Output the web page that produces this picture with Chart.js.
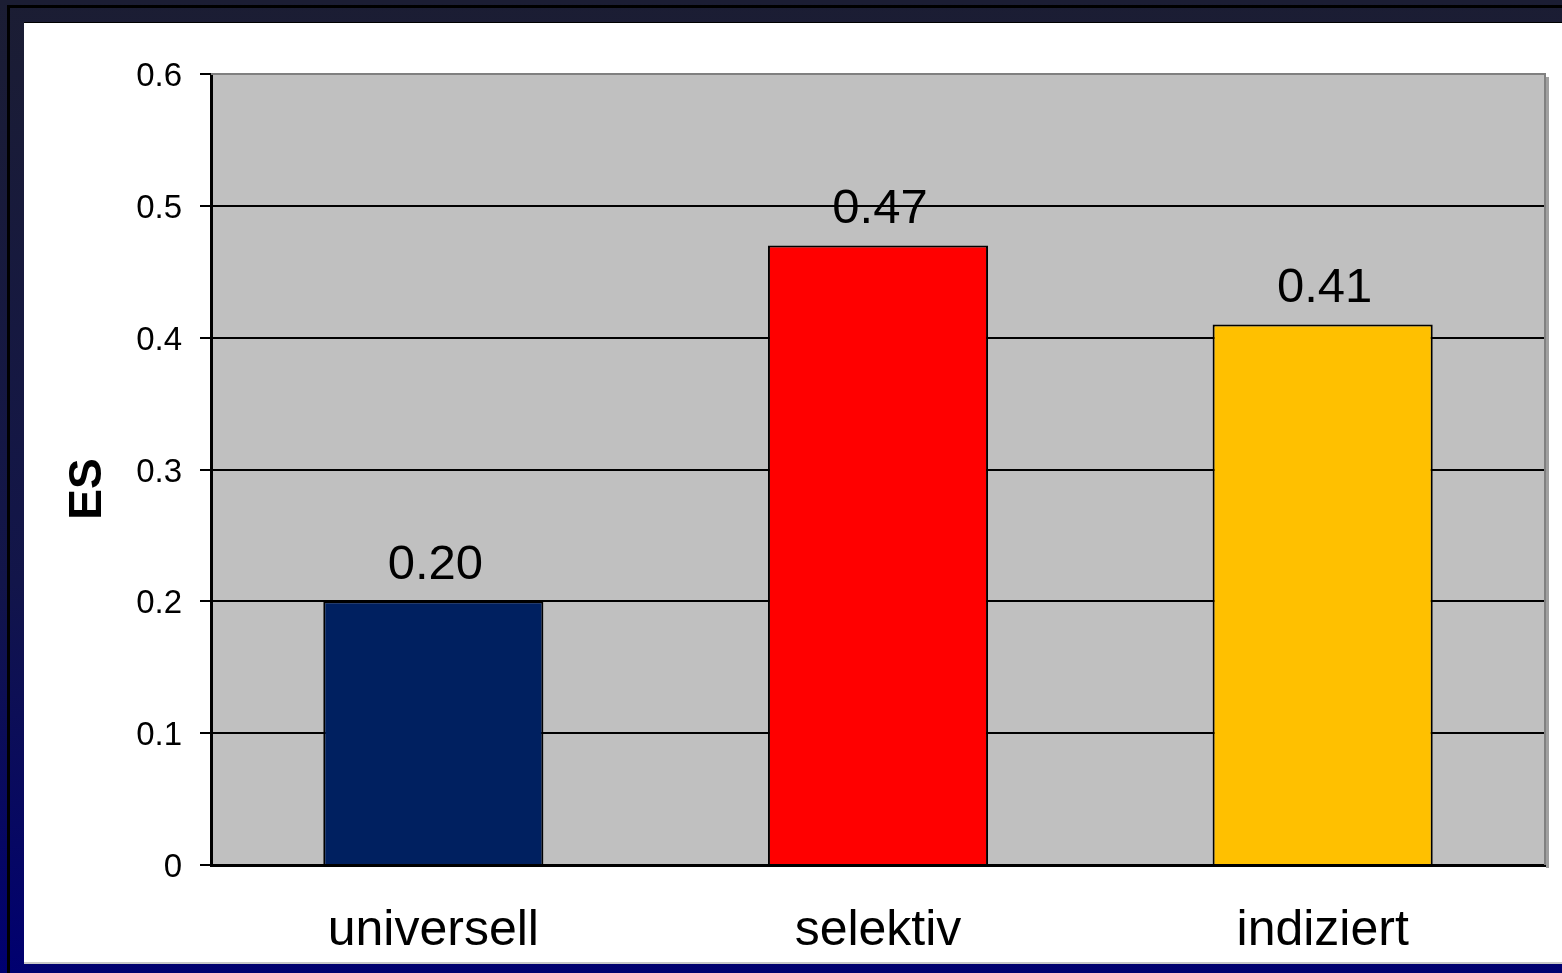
<!DOCTYPE html>
<html>
<head>
<meta charset="utf-8">
<script src="https://cdn.jsdelivr.net/npm/chart.js"></script>
<style>
  html, body { margin: 0; padding: 0; }
  body {
    width: 1562px; height: 973px; overflow: hidden; position: relative;
    background: linear-gradient(#1b1d33 0%, #12154a 60%, #000070 100%);
  }
  #frame {
    position: absolute; left: 7px; top: 5px; width: 1600px; height: 1000px;
    border: 3px solid #000; box-sizing: border-box;
  }
  #panel {
    position: absolute; left: 24px; top: 22px; width: 1560px; height: 940px;
    background: #fff; border-top: 1px solid #000; box-sizing: border-box;
  }
  #panel-shadow {
    position: absolute; left: 24px; top: 962px; width: 1560px; height: 2px; background: #c8c8c8;
  }
  canvas { position: absolute; left: 24px; top: 22px; }
</style>
</head>
<body>
<div id="frame"></div>
<div id="panel"></div>
<div id="panel-shadow"></div>
<canvas id="chart" width="1538" height="940"></canvas>
<script>
const categories = ['universell', 'selektiv', 'indiziert'];
const esValues = [0.20, 0.47, 0.41];
const barColors = ['#002060', '#ff0000', '#ffc000'];
const yTickLabels = ['0', '0.1', '0.2', '0.3', '0.4', '0.5', '0.6'];
const yTitle = 'ES';

const plotBackground = {
  id: 'plotBackground',
  beforeDraw(chart) {
    const { ctx, chartArea: a } = chart;
    ctx.save();
    ctx.fillStyle = '#c0c0c0';
    ctx.fillRect(a.left, a.top, a.right - a.left, a.bottom - a.top);
    ctx.restore();
  },
  afterDraw(chart) {
    const { ctx, chartArea: a } = chart;
    ctx.save();
    // shadow on right edge
    ctx.fillStyle = '#a0a0a0';
    ctx.fillRect(a.right + 1, a.top + 3, 3, a.bottom - a.top);
    ctx.strokeStyle = '#808080';
    ctx.lineWidth = 2;
    ctx.beginPath();
    ctx.moveTo(a.left, a.top);
    ctx.lineTo(a.right, a.top);
    ctx.lineTo(a.right, a.bottom);
    ctx.stroke();
    // y axis title
    ctx.fillStyle = '#000';
    ctx.font = 'bold 46px "Liberation Sans", Arial, sans-serif';
    ctx.textAlign = 'center';
    ctx.textBaseline = 'middle';
    ctx.translate(64, 467);
    ctx.rotate(-Math.PI / 2);
    ctx.fillText(yTitle, 0, 0);
    ctx.restore();
  }
};

const valueLabels = {
  id: 'valueLabels',
  afterDatasetsDraw(chart) {
    const { ctx } = chart;
    const meta = chart.getDatasetMeta(0);
    ctx.save();
    ctx.fillStyle = '#000';
    ctx.font = '49px "Liberation Sans", Arial, sans-serif';
    ctx.textAlign = 'center';
    ctx.textBaseline = 'alphabetic';
    meta.data.forEach((bar, i) => {
      ctx.fillText(esValues[i].toFixed(2), bar.x + 2, bar.y - 22);
    });
    ctx.restore();
  }
};

new Chart(document.getElementById('chart'), {
  type: 'bar',
  data: {
    labels: categories,
    datasets: [{
      data: esValues,
      backgroundColor: barColors,
      borderColor: '#000',
      borderWidth: 2,
      categoryPercentage: 1,
      barPercentage: 0.495
    }]
  },
  options: {
    responsive: false,
    animation: false,
    layout: { padding: { top: 52, right: 17, left: 0, bottom: 0 } },
    plugins: { legend: { display: false }, tooltip: { enabled: false } },
    scales: {
      x: {
        grid: { display: false, drawTicks: false },
        border: { color: '#000', width: 3 },
        ticks: {
          color: '#000',
          padding: 36,
          font: { size: 50, family: '"Liberation Sans", Arial, sans-serif' }
        },
        afterFit(scale) { scale.height = 97; }
      },
      y: {
        min: 0,
        max: 0.6,
        grid: {
          color: ctx => ctx.index === 6 ? 'rgba(0,0,0,0)' : '#000',
          lineWidth: 2,
          tickLength: 11,
          tickColor: '#000'
        },
        border: { color: '#000', width: 3 },
        ticks: {
          stepSize: 0.1,
          color: '#000',
          padding: 18,
          labelOffset: 3,
          font: { size: 33, family: '"Liberation Sans", Arial, sans-serif' },
          callback: (v, i) => yTickLabels[i]
        },
        afterFit(scale) { scale.width = 187; }
      }
    }
  },
  plugins: [plotBackground, valueLabels]
});
</script>
</body>
</html>
